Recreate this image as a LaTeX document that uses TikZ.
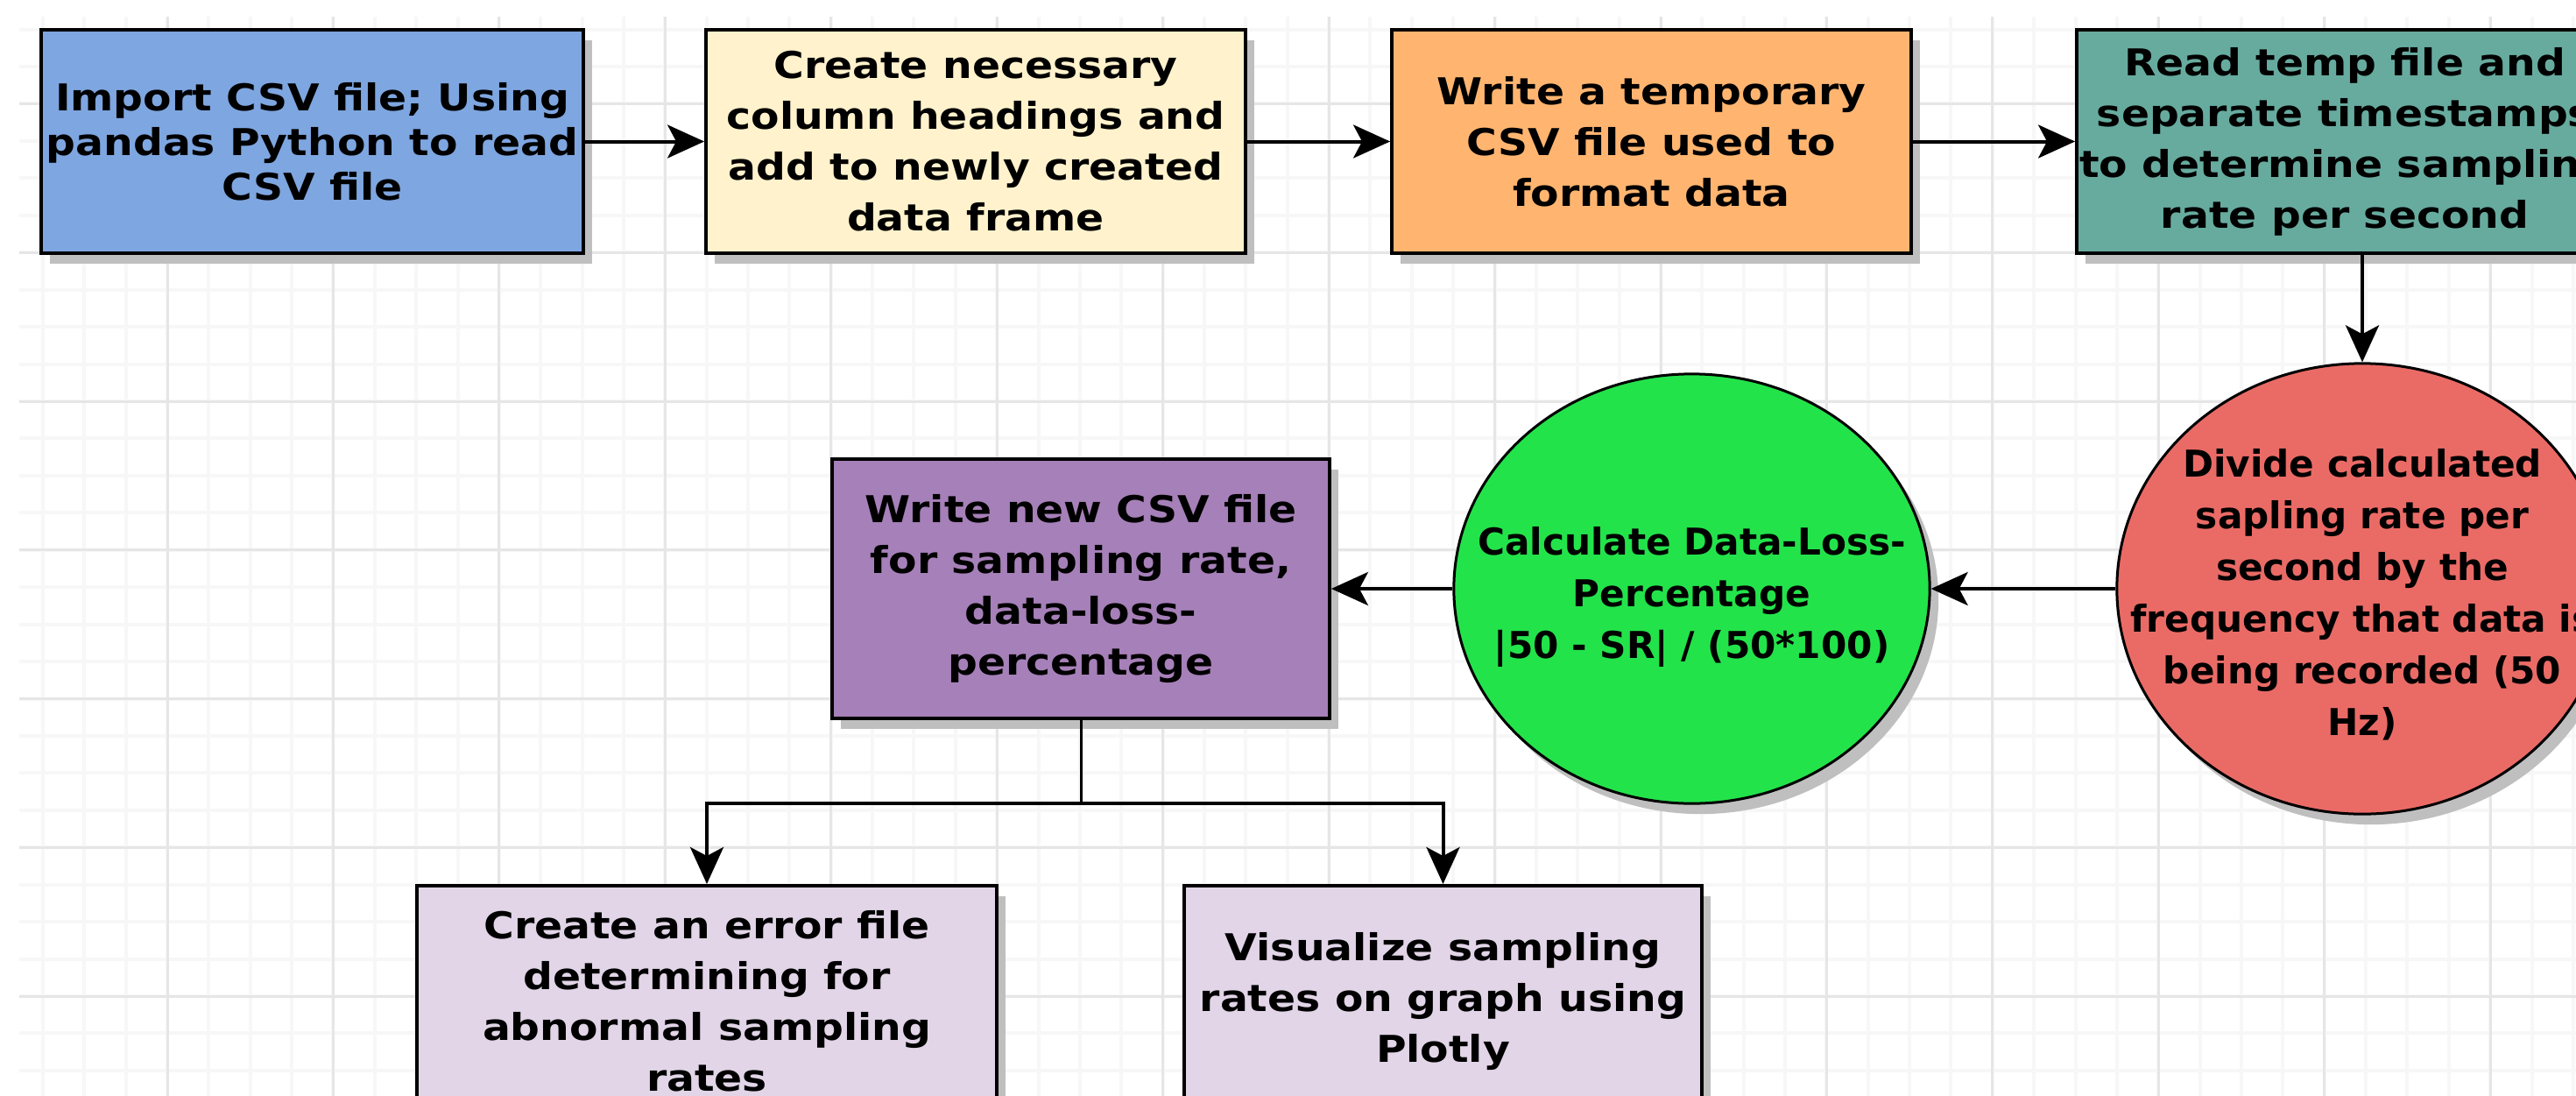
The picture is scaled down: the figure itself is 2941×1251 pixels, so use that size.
\documentclass[tikz,border=0pt]{standalone}
\usepackage{fontspec}
\setmainfont{DejaVu Sans}[FakeStretch=1.12]
\newfontfamily\ovalfont{DejaVu Sans}
\usetikzlibrary{arrows.meta,shadows,shapes.geometric,positioning,calc}
\definecolor{impblue}{HTML}{7EA6E0}
\definecolor{colcream}{HTML}{FFF2CC}
\definecolor{tmporange}{HTML}{FFB570}
\definecolor{rdteal}{HTML}{67AB9F}
\definecolor{divred}{HTML}{EA6B66}
\definecolor{dlpgreen}{HTML}{23E34B}
\definecolor{wrpurple}{HTML}{A680B8}
\definecolor{outlilac}{HTML}{E1D5E7}
\definecolor{gridmajor}{HTML}{E6E6E6}
\definecolor{gridminor}{HTML}{F7F7F7}
\newcommand{\ovaltext}[1]{\makebox[0pt]{\smash{\raisebox{-0.19cm}{\begin{tabular}{@{}c@{}}#1\end{tabular}}}}}

\begin{document}
\begin{tikzpicture}[x=0.01cm,y=-0.01cm,
	font=\fontsize{12}{16.5}\selectfont\bfseries,
	shade/.style={drop shadow={shadow xshift=0.1cm,shadow yshift=-0.12cm,fill=black!25,opacity=1}},
	procbox/.style={rectangle,draw=black,line width=0.035cm,align=center,inner sep=0pt,minimum height=2.55cm,shade},
	calcnode/.style={ellipse,draw=black,line width=0.03cm,inner sep=0pt,shade,
		font=\ovalfont\fontsize{12}{16.8}\selectfont\bfseries},
	flow/.style={-{Stealth[length=0.42cm,width=0.38cm,inset=0.1cm]},line width=0.04cm},
	minorgrid/.style={gridminor,line width=0.04cm},
	majorgrid/.style={gridmajor,line width=0.03cm}
]
\useasboundingbox (0,0) rectangle (2941,1251);
\fill[white] (0,0) rectangle (2941,1251);
\clip (0,0) rectangle (2941,1251);

% background grid
\begin{scope}
\clip (22,19) rectangle (2941,1251);
\foreach \i in {0,...,61} \draw[minorgrid] ({48.9+\i*47.36},19) -- ++(0,1232);
\foreach \j in {0,...,28} \draw[minorgrid] (22,{33.6+\j*42.44}) -- ++(2919,0);
\foreach \i in {0,...,14} \draw[majorgrid] ({191+\i*189.45},19) -- ++(0,1232);
\foreach \j in {0,...,6} \draw[majorgrid] (22,{118.5+\j*169.75}) -- ++(2919,0);
\end{scope}

\node[procbox,fill=impblue,minimum width=6.19cm,font=\fontsize{12}{14.5}\selectfont\bfseries] (imp) at (356.5,161.5) {Import CSV file; Using\\pandas Python to read\\CSV file};
\node[procbox,fill=colcream,minimum width=6.16cm] (cols) at (1114,161.5) {Create necessary\\column headings and\\add to newly created\\data frame};
\node[procbox,fill=tmporange,minimum width=5.93cm] (tmp) at (1885.5,161.5) {Write a temporary\\CSV file used to\\format data};
\node[procbox,fill=rdteal,minimum width=6.12cm] (rd) at (2677,161.5) {Read temp file and\\separate timestamps\\to determine sampling\\rate per second};

\node[calcnode,fill=divred,minimum width=5.6cm,minimum height=5.14cm] (div) at (2697,672) {\ovaltext{Divide calculated\\sapling rate per\\second by the\\frequency that data is\\being recorded (50\\Hz)}};
\node[calcnode,fill=dlpgreen,minimum width=5.43cm,minimum height=4.9cm] (dlp) at (1931.5,672) {\ovaltext{Calculate Data-Loss-\\Percentage\\|50 - SR| / (50*100)}};
\node[procbox,fill=wrpurple,minimum width=5.68cm,minimum height=2.96cm] (wr) at (1234,672) {Write new CSV file\\for sampling rate,\\data-loss-\\percentage};

\node[procbox,fill=outlilac,minimum width=6.62cm,minimum height=2.64cm,anchor=north] (err) at (807,1009) {Create an error file\\determining for\\abnormal sampling\\rates};
\node[procbox,fill=outlilac,minimum width=5.91cm,minimum height=2.64cm,anchor=north] (viz) at (1647.5,1009) {Visualize sampling\\rates on graph using\\Plotly};

\draw[flow] (imp.east) -- (cols.west);
\draw[flow] (cols.east) -- (tmp.west);
\draw[flow] (tmp.east) -- (rd.west);
\draw[flow] (div.north |- rd.south) -- (div.north);
\draw[flow] (div.west) -- (dlp.east);
\draw[flow] (dlp.west) -- (wr.east);
\coordinate (fork) at (1234,917);
\draw[line width=0.03cm] (wr.south) -- (fork);
\draw[flow] (fork) -| (err.north);
\draw[flow] (fork) -| (viz.north);
\end{tikzpicture}
\end{document}
